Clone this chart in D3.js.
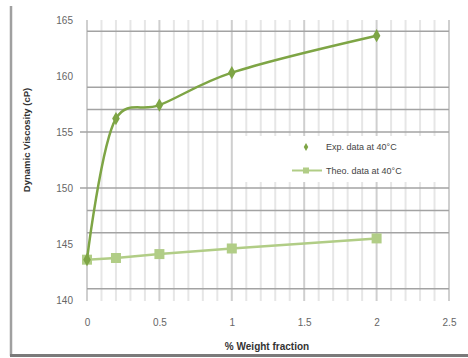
<!DOCTYPE html>
<html>
<head>
<meta charset="utf-8">
<script src="https://cdn.jsdelivr.net/npm/d3@7"></script>
<style>
  html, body { margin: 0; padding: 0; background: #fff; }
  svg { display: block; font-family: "Liberation Sans", Arial, sans-serif; }
</style>
</head>
<body>
<svg id="chart" width="468" height="358"></svg>
<script>
// Weight fraction (%) and dynamic viscosity (cP) at 40 °C
const fractions = [0, 0.2, 0.5, 1, 2];
const expViscosity = [143.6, 156.2, 157.4, 160.3, 163.6];
const theoViscosity = [143.6, 143.75, 144.1, 144.6, 145.5];
const seriesNames = ["Exp. data at 40°C", "Theo. data at 40°C"];

const xTicks = [0, 0.5, 1, 1.5, 2, 2.5];
const yTicks = [140, 145, 150, 155, 160, 165];
const hGridValues = [141, 146, 148, 150, 155, 157, 159, 164];
const yAxisTickValues = [150, 155];

const svg = d3.select("#chart");

const x = d3.scaleLinear().domain([0, 2.5]).range([87, 449]);
const y = d3.scaleLinear().domain([140, 165]).range([300, 20]);

const expColor = "#7ea545";
const theoColor = "#b1cd86";

// chart frame (left and bottom edges)
svg.append("line").attr("x1", 11).attr("x2", 11).attr("y1", 6).attr("y2", 356)
  .attr("stroke", "#a0a0a0").attr("stroke-width", 2.5);
svg.append("line").attr("x1", 10).attr("x2", 468).attr("y1", 355.5).attr("y2", 355.5)
  .attr("stroke", "#7a7a7a").attr("stroke-width", 3);

// vertical gridlines every 0.1, darker every 0.5
const vGrid = d3.range(0, 26).map(i => i / 10);
svg.append("g").selectAll("line").data(vGrid).join("line")
  .attr("x1", d => x(d)).attr("x2", d => x(d))
  .attr("y1", y(165)).attr("y2", y(140) + 1)
  .attr("stroke", (d, i) => i % 5 === 0 ? "#cfcfcf" : "#e6e6e6")
  .attr("stroke-width", 2);

// horizontal gridlines
svg.append("g").selectAll("line").data(hGridValues).join("line")
  .attr("x1", x(0)).attr("x2", x(2.5))
  .attr("y1", d => y(d)).attr("y2", d => y(d))
  .attr("stroke", "#a3a3a3").attr("stroke-width", 1.5);

svg.append("g").selectAll("line").data(yAxisTickValues).join("line")
  .attr("x1", x(0) - 7).attr("x2", x(0))
  .attr("y1", d => y(d)).attr("y2", d => y(d))
  .attr("stroke", "#a3a3a3").attr("stroke-width", 1.5);

// axis tick labels
const yAxis = d3.axisLeft(y).tickValues(yTicks).tickSize(0).tickPadding(14);
const gy = svg.append("g").attr("transform", `translate(${x(0)},0)`).call(yAxis);
gy.select(".domain").remove();
gy.selectAll("text").attr("fill", "#666").style("font-size", "10px");

const xAxis = d3.axisBottom(x).tickValues(xTicks).tickSize(0).tickPadding(19)
  .tickFormat(d3.format("~g"));
const gx = svg.append("g").attr("transform", `translate(0,${y(140)})`).call(xAxis);
gx.select(".domain").remove();
gx.selectAll("text").attr("fill", "#666").style("font-size", "10px");

// axis titles
svg.append("text")
  .attr("transform", "translate(30,140) rotate(-90)")
  .attr("text-anchor", "middle")
  .attr("fill", "#333").style("font-size", "9.5px").style("font-weight", "bold")
  .text("Dynamic Viscosity (cP)");
svg.append("text")
  .attr("x", 267).attr("y", 350)
  .attr("text-anchor", "middle")
  .attr("fill", "#333").style("font-size", "10px").style("font-weight", "bold")
  .text("% Weight fraction");

// theoretical series: straight segments with square markers
const theoData = fractions.map((f, i) => [f, theoViscosity[i]]);
svg.append("path").datum(theoData)
  .attr("fill", "none").attr("stroke", theoColor).attr("stroke-width", 2.5)
  .attr("d", d3.line().x(d => x(d[0])).y(d => y(d[1])));
svg.append("g").selectAll("rect").data(theoData).join("rect")
  .attr("x", d => x(d[0]) - 5).attr("y", d => y(d[1]) - 5)
  .attr("width", 10).attr("height", 10).attr("fill", theoColor);

// experimental series: smoothed line with diamond markers
const expData = fractions.map((f, i) => [f, expViscosity[i]]);
svg.append("path").datum(expData)
  .attr("fill", "none").attr("stroke", expColor).attr("stroke-width", 2.5)
  .attr("d", d3.line().x(d => x(d[0])).y(d => y(d[1])).curve(d3.curveCatmullRom.alpha(0.2)));
const diamond = d3.symbol().type(d3.symbolDiamond).size(50);
svg.append("g").selectAll("path").data(expData).join("path")
  .attr("transform", d => `translate(${x(d[0])},${y(d[1])})`)
  .attr("d", diamond).attr("fill", expColor);

// legend
const lg = svg.append("g");
lg.append("rect").attr("x", 236).attr("y", 136).attr("width", 211).attr("height", 46)
  .attr("fill", "#fff");
lg.append("path").attr("transform", "translate(306,147)")
  .attr("d", d3.symbol().type(d3.symbolDiamond).size(18)).attr("fill", expColor);
lg.append("line").attr("x1", 292).attr("x2", 322).attr("y1", 170.5).attr("y2", 170.5)
  .attr("stroke", theoColor).attr("stroke-width", 2);
lg.append("rect").attr("x", 303).attr("y", 167.5).attr("width", 6).attr("height", 6)
  .attr("fill", theoColor);
lg.selectAll("text").data(seriesNames).join("text")
  .attr("x", 326).attr("y", (d, i) => 150 + i * 24)
  .attr("fill", "#444").style("font-size", "9px")
  .text(d => d);
</script>
</body>
</html>
